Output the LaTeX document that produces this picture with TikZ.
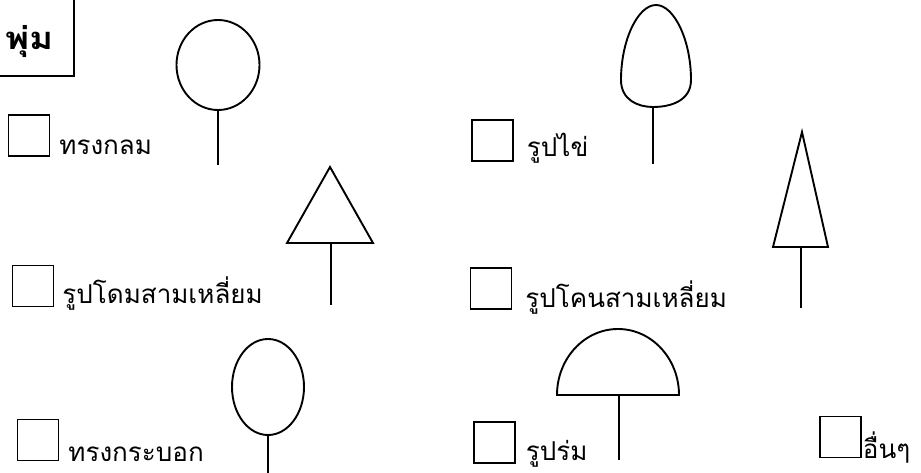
\documentclass[tikz,border=0pt]{standalone}
\usepackage{fontspec}
\newfontfamily\thaifont[Script=Thai]{Loma}
\usetikzlibrary{positioning,calc,shapes.geometric}

\tikzset{
  crown/.style={line width=1.9pt},
  stem/.style={line width=1.9pt},
  checkbox/.style={draw, line width=1.5pt, minimum size=41pt, inner sep=0pt},
  choice/.style={font=\thaifont\fontsize{26}{28}\selectfont, inner sep=0pt, anchor=base west},
}

\begin{document}
\begin{tikzpicture}[x=1pt, y=-1pt]
    \useasboundingbox (0,0) rectangle (921,473);

    % Title box (open at the left edge)
    \node[font=\thaifont\bfseries\fontsize{31}{33}\selectfont, inner sep=0pt, anchor=base east] (title) at (54,50) {\scalebox{1.18}[1]{พุ่ม}};
    \draw[line width=1.5pt] (-5,76) -| (74,-5);

    % Check boxes
    \node[checkbox] (cbround)  at (29,135.5) {};
    \node[checkbox] (cbegg)    at (492.5,140.5) {};
    \node[checkbox] (cbdome)   at (33,286) {};
    \node[checkbox] (cbcone)   at (491,288.5) {};
    \node[checkbox] (cbcyl)    at (38,440) {};
    \node[checkbox] (cbumb)    at (494.5,442.5) {};
    \node[checkbox] (cbother)  at (840.5,437) {};

    % Labels
    \node[choice] (lround) at ([xshift=9pt, yshift=2pt]cbround.south east) {ทรงกลม};
    \node[choice] (legg)   at ([xshift=13pt, yshift=5pt]cbegg.south east) {รูปไข่};
    \node[choice] (ldome)  at ([xshift=8pt, yshift=4pt]cbdome.south east) {รูปโดมสามเหลี่ยม};
    \node[choice] (lcone)  at ([xshift=13pt, yshift=2pt]cbcone.south east) {รูปโคนสามเหลี่ยม};
    \node[choice] (lcyl)   at ([xshift=9pt, yshift=0pt]cbcyl.south east) {ทรงกระบอก};
    \node[choice] (lumb)   at ([xshift=10pt, yshift=3pt]cbumb.south east) {รูปร่ม};
    \node[choice] (lother) at ([xshift=1pt, yshift=0pt]cbother.south east) {อื่นๆ};

    % Round crown
    \node[draw, crown, ellipse, minimum width=83pt, minimum height=90pt, inner sep=0pt] (round) at (218,65) {};
    \coordinate (roundend) at ($(round.south)+(0,54)$);
    \draw[stem] (round.south) -- (roundend);

    % Egg crown
    \draw[crown] (656,5) .. controls (638,5) and (621,40) .. (621,80)
        .. controls (621,100) and (638,107) .. (653,107)
        .. controls (672,107) and (691,100) .. (691,80)
        .. controls (691,40) and (674,5) .. (656,5);
    \coordinate (eggbase) at (653,107);
    \coordinate (eggend) at (653,164);
    \draw[stem] (eggbase) -- (eggend);

    % Triangular dome
    \draw[crown] (330,167) -- (373,243) -- (287,243) -- cycle;
    \coordinate (domebase) at (331,243);
    \coordinate (domeend) at (331,305);
    \draw[stem] (domebase) -- (domeend);

    % Triangular cone
    \draw[crown] (802,132) -- (828,247) -- (773,247) -- cycle;
    \coordinate (conebase) at (801,247);
    \coordinate (coneend) at (801,308);
    \draw[stem] (conebase) -- (coneend);

    % Cylinder crown
    \node[draw, crown, ellipse, minimum width=72pt, minimum height=96pt, inner sep=0pt] (cyl) at (268,387) {};
    \coordinate (cylend) at ($(cyl.south)+(0,40)$);
    \draw[stem] (cyl.south) -- (cylend);

    % Umbrella crown
    \draw[crown] (557,395) arc[start angle=180, end angle=360, x radius=61, y radius=66] -- cycle;
    \coordinate (umbbase) at (619,395);
    \coordinate (umbend) at (619,460);
    \draw[stem] (umbbase) -- (umbend);
\end{tikzpicture}
\end{document}
